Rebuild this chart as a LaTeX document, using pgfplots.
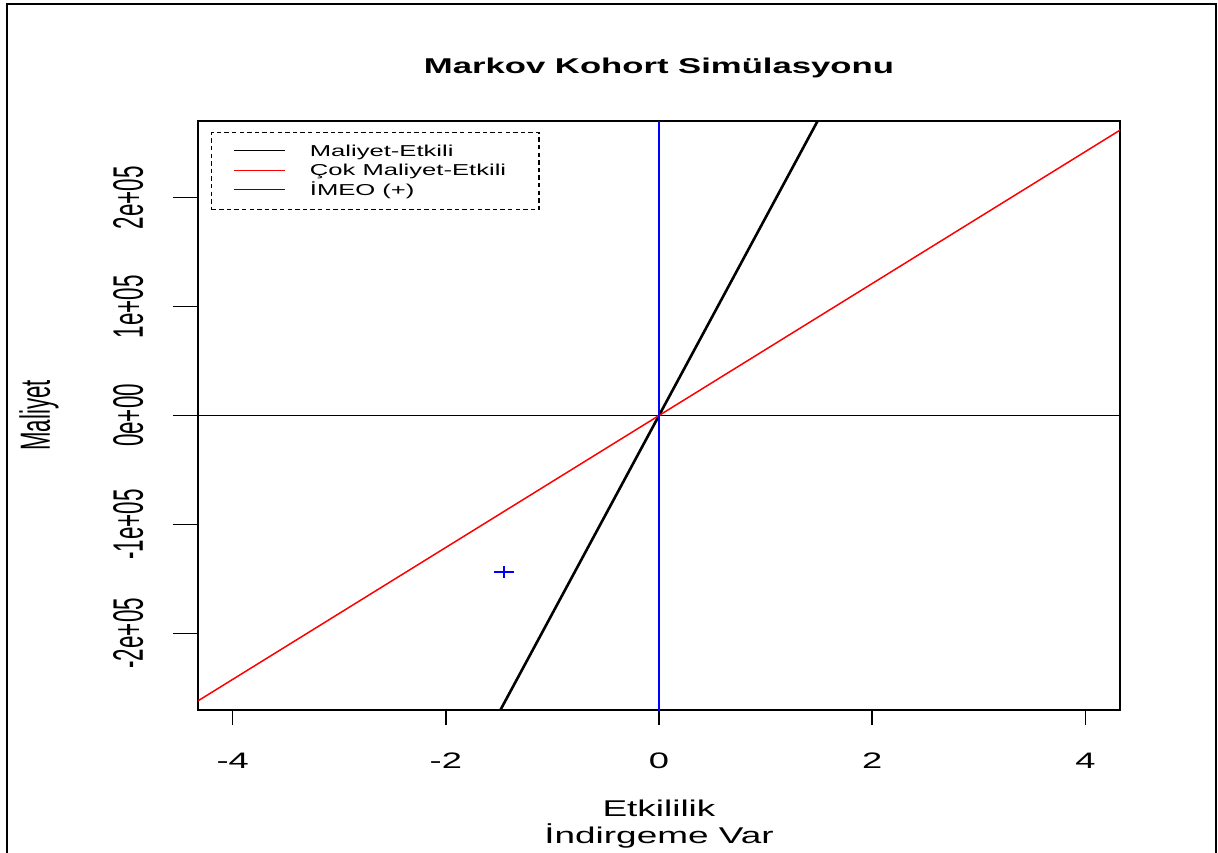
\documentclass[border=0pt]{standalone}
\usepackage{fontspec}
\setmainfont{Liberation Sans}
% wide lettering for horizontal text, narrow lettering for rotated text
\newfontfamily\wide[FakeStretch=1.62]{Liberation Sans}
\newfontfamily\narrow[FakeStretch=0.5263]{Liberation Sans}
\usepackage{pgfplots}
\pgfplotsset{compat=1.18}

\definecolor{keyblack}{RGB}{1,1,1}
\definecolor{keyred}{RGB}{254,0,0}
\definecolor{keyblue}{RGB}{0,0,254}

% legend text: fixed row height through a strut, padded width
\newcommand{\legtext}[1]{\rule[-3.3pt]{0pt}{10.5pt}\makebox[103.5pt][l]{#1}}

\begin{document}
\begin{tikzpicture}
\useasboundingbox (-99pt,-71pt) rectangle (510pt,355pt);
\draw[line width=1pt] (-95.5pt,-80pt) -- (-95.5pt,353pt) -- (509pt,353pt) -- (509pt,-80pt);
\begin{axis}[
  scale only axis, width=461pt, height=294.5pt,
  at={(0,0)}, anchor=south west,
  xmin=-4.325, xmax=4.325, ymin=-270500, ymax=270500,
  axis line style={line width=0.7pt},
  tick align=outside, tick pos=left,
  major tick length=7.5pt,
  xtick={-4,-2,0,2,4},
  xticklabels={-4,-2,0,2,4},
  ytick={-200000,-100000,0,100000,200000},
  yticklabels={-2e+05,-1e+05,0e+00,1e+05,2e+05},
  scaled y ticks=false,
  xtick style={line width=0.7pt, black},
  ytick style={line width=0.7pt, black},
  extra y ticks={-200000,-100000,0,100000,200000},
  extra y tick labels={},
  extra y tick style={ytick style={xshift=-5pt}},
  xticklabel style={anchor=base, yshift=-21.5pt, font=\wide\fontsize{11.2}{13}\selectfont},
  yticklabel style={xshift=-20pt, rotate=90, anchor=base, font=\narrow\fontsize{21.3}{24}\selectfont},
  title={Markov Kohort Simülasyonu},
  every axis title/.style={at={(0.5,1)}, anchor=base, yshift=24pt,
    font=\wide\fontsize{10.7}{12}\selectfont\bfseries},
  xlabel={Etkililik\\İndirgeme Var},
  every axis x label/.style={at={(0.5,0)}, anchor=base, yshift=-66.5pt,
    align=center, font=\wide\fontsize{11.4}{13.2}\selectfont},
  ylabel={Maliyet},
  every axis y label/.style={at={(0,0.5)}, xshift=-74pt, rotate=90, anchor=base,
    font=\narrow\fontsize{21.1}{24}\selectfont},
  legend cell align=left,
  legend image code/.code={\draw[#1, line width=0.6pt, solid] (0pt,0pt) -- (25.5pt,0pt); \path (0pt,-5pt);},
  legend style={at={(axis description cs:0.0141,0.9813)}, anchor=north west,
    draw=black, line width=0.65pt, dash pattern=on 2.2pt off 1.6pt,
    inner xsep=11pt, inner ysep=4.75pt, row sep=0pt, column sep=12pt,
    nodes={inner sep=0pt},
    font=\wide\fontsize{7.9}{9}\selectfont},
]
% legend keys
\addlegendimage{keyblack}
\addlegendentry{\legtext{Maliyet-Etkili}}
\addlegendimage{keyred}
\addlegendentry{\legtext{Çok Maliyet-Etkili}}
\addlegendimage{keyblue}
\addlegendentry{\legtext{İMEO (+)}}
% zero cost reference line
\addplot[black, line width=0.6pt, forget plot] coordinates {(-5,0) (5,0)};
% threshold lines through the origin
\addplot[black, line width=1.3pt, forget plot] coordinates {(-1.6,-290880) (1.6,290880)};
\addplot[red, line width=0.75pt, forget plot] coordinates {(-4.5,-272700) (4.5,272700)};
\addplot[blue, line width=1pt, forget plot] coordinates {(0,-300000) (0,300000)};
% incremental result
\addplot[blue, only marks, mark=+, mark size=3pt, mark options={xscale=1.65, line width=1.2pt}, forget plot]
  coordinates {(-1.456,-143800)};
\end{axis}
\end{tikzpicture}
\end{document}
